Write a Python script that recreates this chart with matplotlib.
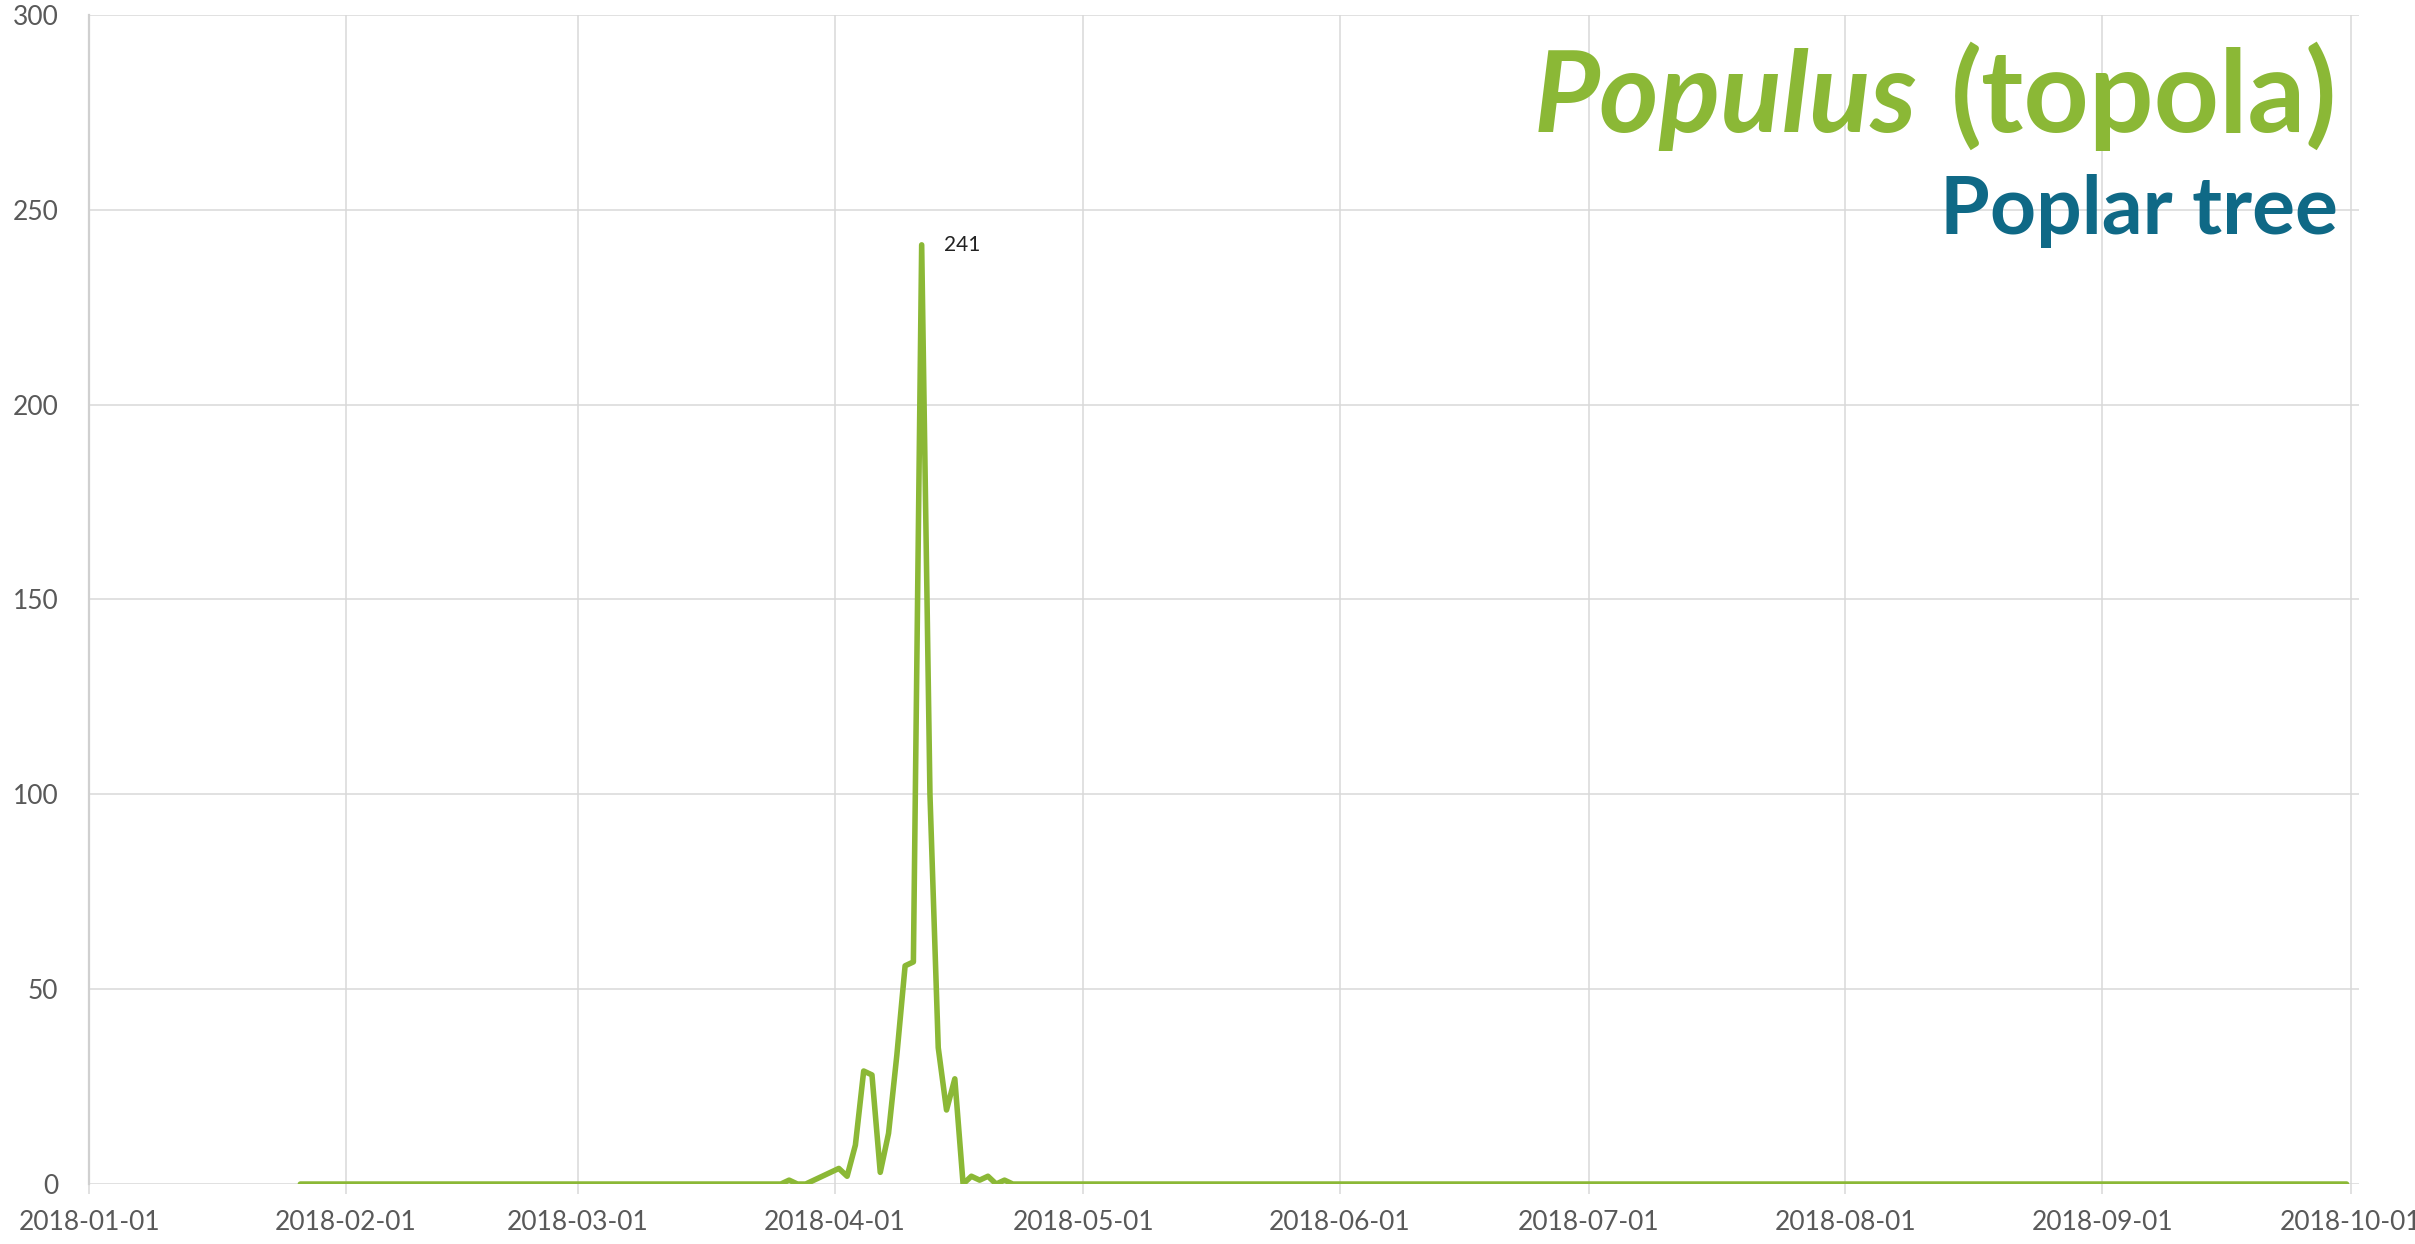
"""Populus pollen count 2018 - daily line chart"""
import matplotlib
matplotlib.use("Agg")
import matplotlib.pyplot as plt
import matplotlib.dates as mdates
import pandas as pd

# Season window and daily counts around the flowering peak
first_day = "2018-01-26 12:00"
last_day = "2018-09-30 12:00"
season_start = "2018-03-25 12:00"
season_counts = [0, 1, 0, 0, 1, 2, 3, 4, 2, 10, 29, 28, 3, 13, 33, 56, 57,
                 241, 100, 35, 19, 27, 0, 2, 1, 2, 0, 1, 0]

tick_dates = ["2018-01-01", "2018-02-01", "2018-03-01", "2018-04-01", "2018-05-01",
              "2018-06-01", "2018-07-01", "2018-08-01", "2018-09-01", "2018-10-01"]
y_ticks = [0, 50, 100, 150, 200, 250, 300]

title_latin = "Populus"
title_local = "(topola)"
subtitle = "Poplar tree"

GREEN = "#8BB836"
TEAL = "#0F6986"
GRID = "#D9D9D9"
TICK_TXT = "#595959"

# Daily series, samples stamped at midday; days outside the season had zero counts
counts = pd.Series(0, index=pd.date_range(first_day, last_day, freq="D"))
season_idx = pd.date_range(season_start, periods=len(season_counts), freq="D")
counts.loc[season_idx] = season_counts

plt.rcParams["font.family"] = ["Lato", "DejaVu Sans"]

fig = plt.figure(figsize=(24.15, 12.44), dpi=100)
ax = fig.add_axes([0.0369, 0.0482, 0.9399, 0.9398])

ax.plot(counts.index, counts.values, color=GREEN, linewidth=4.0,
        solid_joinstyle="round", solid_capstyle="round", zorder=3)

# Peak label
peak_day = counts.idxmax()
peak_val = counts.max()
ax.annotate(f"{peak_val}", xy=(peak_day, peak_val), xytext=(16, 0),
            textcoords="offset points", va="center", ha="left",
            fontsize=15, color="#222222")

ax.set_xlim(pd.Timestamp("2018-01-01"), pd.Timestamp("2018-10-02"))
ax.set_ylim(0, 300)
ax.set_xticks(pd.to_datetime(tick_dates))
ax.xaxis.set_major_formatter(mdates.DateFormatter("%Y-%m-%d"))
ax.set_yticks(y_ticks)

ax.grid(True, color=GRID, linewidth=1.1, zorder=0)
ax.set_axisbelow(True)
for side in ["top", "right", "bottom"]:
    ax.spines[side].set_visible(False)
ax.spines["left"].set_color("#D0D0D0")
ax.spines["left"].set_linewidth(1.6)

ax.tick_params(axis="x", length=7, width=1.1, color=GRID, pad=12,
               labelsize=19, labelcolor=TICK_TXT)
ax.tick_params(axis="y", length=0, pad=22, labelsize=19, labelcolor=TICK_TXT)

# Title: italic genus name followed by upright local name, right aligned
title_x, title_y = 0.968, 0.894
title_size = 82
t_local = fig.text(title_x, title_y, title_local, ha="right", va="baseline",
                   fontsize=title_size, fontweight="bold", color=GREEN)
renderer = fig.canvas.get_renderer()
bb = t_local.get_window_extent(renderer=renderer)
space_px = 0.3 * title_size * 100 / 72
fig.text((bb.x0 - space_px) / fig.bbox.width, title_y, title_latin,
         ha="right", va="baseline", fontsize=title_size, fontweight="bold",
         fontstyle="italic", color=GREEN)
fig.text(title_x, 0.812, subtitle, ha="right", va="baseline",
         fontsize=58, fontweight="bold", color=TEAL)

fig.savefig("out.png", dpi=100)
plt.close(fig)
